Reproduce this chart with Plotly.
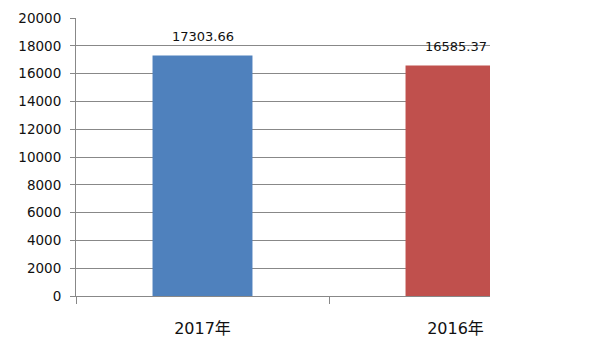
import plotly.graph_objects as go

categories = ["2017年", "2016年"]
values = [17303.66, 16585.37]
labels = ["17303.66", "16585.37"]
colors = ["#4F81BD", "#C0504D"]
y_ticks = list(range(0, 20001, 2000))
y_tick_text = [str(v) for v in y_ticks]

xs = list(range(len(categories)))
fig = go.Figure()
fig.add_trace(go.Bar(x=xs, y=values, width=0.395, marker=dict(color=colors, line=dict(width=0)),
                     hoverinfo="skip"))

for x, v, t in zip(xs, values, labels):
    fig.add_annotation(x=x, y=v, text=t, showarrow=False, yanchor="bottom", yshift=9,
                       font=dict(family="DejaVu Sans", size=13, color="#111111"))

gray = "#888888"
fig.update_layout(
    width=600, height=360,
    margin=dict(l=68, r=118, t=10, b=72, autoexpand=False),
    paper_bgcolor="white", plot_bgcolor="white",
    showlegend=False,
    xaxis=dict(
        range=[-0.5, -0.5 + 414 / 253], tickvals=xs, ticktext=categories,
        ticks="", showgrid=False, zeroline=False, automargin=False,
        showline=True, linecolor=gray, linewidth=1,
        tickfont=dict(family="DejaVu Sans, Noto Sans CJK SC", size=16, color="#111111"),
        ticklabelstandoff=18,
        minor=dict(tick0=-0.5, dtick=1, ticks="outside", ticklen=7, tickcolor=gray, showgrid=False),
    ),
    yaxis=dict(
        range=[0, 20000], tickvals=y_ticks, ticktext=y_tick_text, ticks="outside", ticklen=5,
        tickcolor=gray, automargin=False,
        showgrid=True, gridcolor=gray, gridwidth=1, zeroline=False,
        showline=True, linecolor=gray, linewidth=1,
        tickfont=dict(family="DejaVu Sans", size=13.5, color="#111111"),
        ticklabelstandoff=6,
    ),
)
fig.write_html("out.html")
